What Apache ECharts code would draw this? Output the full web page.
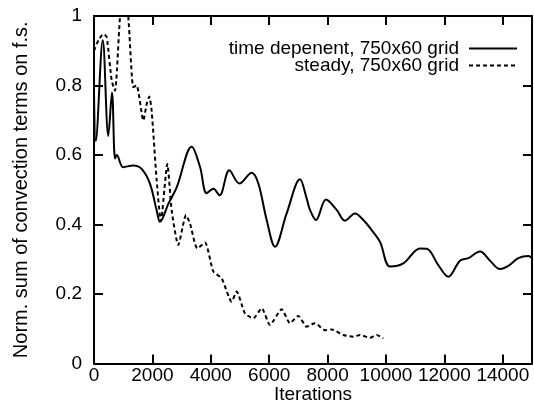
<!DOCTYPE html>
<html>
<head>
<meta charset="utf-8">
<script src="https://cdn.jsdelivr.net/npm/echarts@6/dist/echarts.min.js"></script>
<style>html,body{margin:0;padding:0;background:#fff}#c{width:534px;height:417px}</style>
</head>
<body>
<div id="c"></div>
<script>
// Iterations (x) and normalized values (y)
const timeDepX = [0, 60, 300, 490, 616, 720, 780, 1000, 1346, 1633, 1918, 2147, 2260, 2550, 2832, 3346, 3630, 3858, 4086, 4300, 4634, 4977, 5400, 5628, 5913, 6199, 6598, 7055, 7283, 7397, 7603, 7945, 8311, 8596, 8938, 9223, 9509, 9795, 10137, 10593, 11164, 11400, 11792, 12134, 12534, 12819, 13219, 13562, 13904, 14189, 14532, 14874, 15000];
const timeDepY = [0.78, 0.64, 0.93, 0.655, 0.78, 0.59, 0.6, 0.565, 0.57, 0.56, 0.517, 0.44, 0.408, 0.46, 0.507, 0.624, 0.566, 0.49, 0.503, 0.484, 0.556, 0.518, 0.549, 0.518, 0.413, 0.336, 0.432, 0.53, 0.475, 0.442, 0.413, 0.472, 0.442, 0.411, 0.432, 0.413, 0.384, 0.35, 0.279, 0.288, 0.331, 0.33, 0.283, 0.25, 0.296, 0.303, 0.322, 0.296, 0.272, 0.281, 0.303, 0.309, 0.303];
const steadyX = [0, 150, 320, 434, 606, 719, 890, 1030, 1176, 1346, 1461, 1690, 1804, 1895, 1975, 2147, 2290, 2511, 2661, 2887, 3151, 3288, 3539, 3801, 4086, 4372, 4714, 4886, 5171, 5457, 5742, 6027, 6428, 6712, 6997, 7283, 7568, 7911, 8140, 8538, 8880, 9110, 9452, 9680, 9908];
const steadyY = [0.9, 0.93, 0.948, 0.94, 0.814, 0.785, 0.996, 1.08, 0.996, 0.795, 0.8, 0.699, 0.747, 0.768, 0.727, 0.526, 0.41, 0.574, 0.44, 0.341, 0.427, 0.403, 0.331, 0.348, 0.265, 0.245, 0.178, 0.207, 0.144, 0.13, 0.159, 0.111, 0.156, 0.116, 0.137, 0.106, 0.116, 0.096, 0.098, 0.082, 0.077, 0.082, 0.074, 0.082, 0.072];
const seriesNames = ['time depenent, 750x60 grid', 'steady, 750x60 grid'];
const xTitle = 'Iterations';
const yTitle = 'Norm. sum of convection terms on f.s.';

const FONT = 'Liberation Sans';
const pair = (xs, ys) => xs.map((x, i) => [x, ys[i]]);
const mkLine = () => ({show: true, onZero: false, lineStyle: {color: '#000', width: 2}});
const mkTick = () => ({show: true, inside: true, length: 9, lineStyle: {color: '#000', width: 2}});
const mkLegend = (name, top) => ({
  data: [name], right: 16, top: top, orient: 'vertical', align: 'right', padding: 0,
  itemWidth: 48, itemHeight: 10, itemStyle: {opacity: 0},
  textStyle: {fontFamily: FONT, fontSize: 19, color: '#000', padding: [0, 5, 0, 0]}
});

const chart = echarts.init(document.getElementById('c'));
chart.setOption({
  animation: false,
  backgroundColor: '#fff',
  grid: {left: 94, right: 2, top: 16, bottom: 53.5},
  legend: [mkLegend(seriesNames[0], 39), mkLegend(seriesNames[1], 56)],
  xAxis: [
    {type: 'value', min: 0, max: 15000, interval: 2000, position: 'bottom',
     name: xTitle, nameLocation: 'middle', nameGap: 22, nameMoveOverlap: false,
     nameTextStyle: {fontFamily: FONT, fontSize: 19, color: '#000'},
     axisLine: mkLine(), axisTick: mkTick(), splitLine: {show: false},
     axisLabel: {fontFamily: FONT, fontSize: 19, color: '#000', margin: 3, showMaxLabel: false,
                 formatter: v => String(v)}},
    {type: 'value', min: 0, max: 15000, interval: 2000, position: 'top',
     axisLine: mkLine(), axisTick: mkTick(), splitLine: {show: false}, axisLabel: {show: false}}
  ],
  yAxis: [
    {type: 'value', min: 0, max: 1, interval: 0.2, position: 'left',
     name: yTitle, nameLocation: 'middle', nameGap: 63, nameMoveOverlap: false,
     nameTextStyle: {fontFamily: FONT, fontSize: 20, color: '#000'},
     axisLine: mkLine(), axisTick: mkTick(), splitLine: {show: false},
     axisLabel: {fontFamily: FONT, fontSize: 19, color: '#000', margin: 12, formatter: v => String(v)}},
    {type: 'value', min: 0, max: 1, interval: 0.2, position: 'right',
     axisLine: mkLine(), axisTick: mkTick(), splitLine: {show: false}, axisLabel: {show: false}}
  ],
  series: [
    {name: seriesNames[0], type: 'line', data: pair(timeDepX, timeDepY), smooth: 0.35,
     showSymbol: false, symbol: 'none', lineStyle: {color: '#000', width: 2, type: 'solid'}, itemStyle: {color: '#000'}},
    {name: seriesNames[1], type: 'line', data: pair(steadyX, steadyY), smooth: 0.2,
     showSymbol: false, symbol: 'none', lineStyle: {color: '#000', width: 2, type: [4, 3]}, itemStyle: {color: '#000'}}
  ]
});
</script>
</body>
</html>
